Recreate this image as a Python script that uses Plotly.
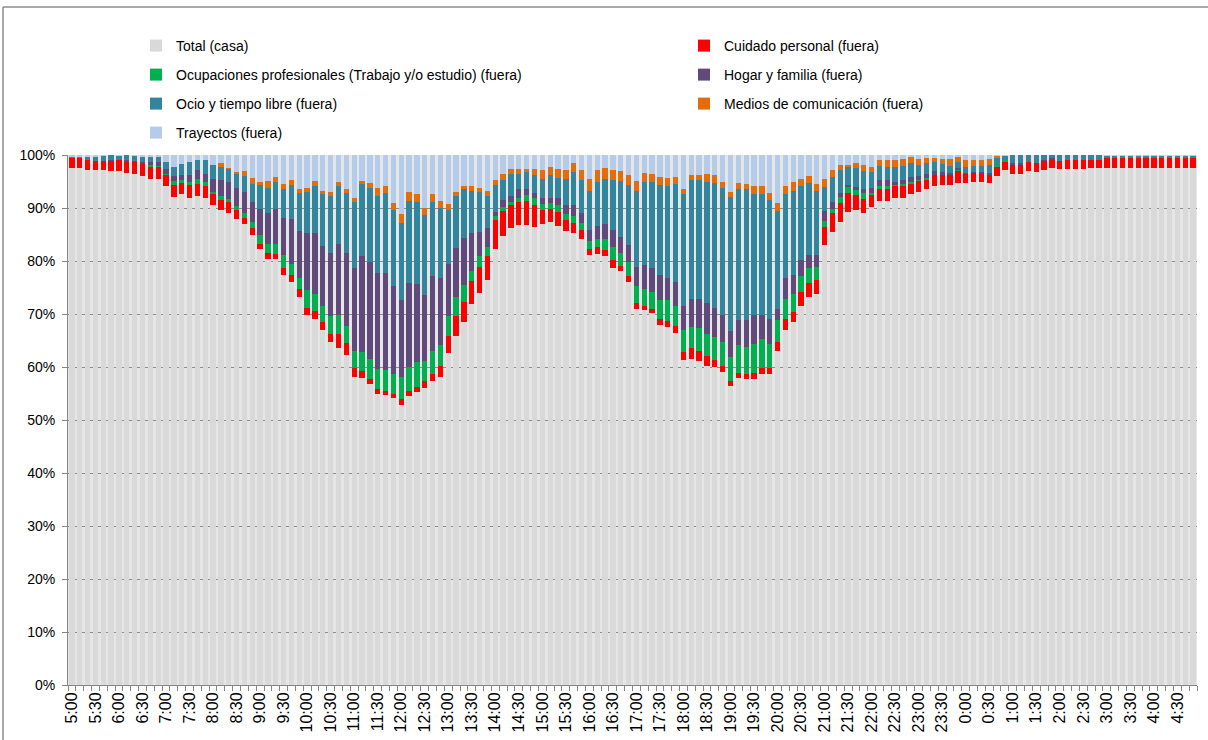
import plotly.graph_objects as go

# 10-minute slots from 5:00 to 4:50 (categories)
times = []
for k in range(144):
    m = (5 * 60 + 10 * k) % 1440
    times.append(f"{m // 60}:{m % 60:02d}")
tick_text = [t if i % 3 == 0 else "" for i, t in enumerate(times)]

casa = [
    97.5, 97.5, 97.2, 97.1, 97.1, 97.0, 96.9, 96.6, 96.4, 96.0, 95.5, 95.4,
    94.1, 92.1, 92.7, 91.9, 92.2, 91.8, 90.5, 89.7, 89.1, 87.9, 87.0, 85.0,
    82.2, 80.3, 80.3, 77.4, 76.0, 73.3, 69.9, 69.1, 66.9, 64.8, 63.6, 62.3,
    58.1, 57.9, 56.7, 55.0, 54.7, 54.2, 52.8, 54.5, 55.2, 56.1, 57.3, 58.2,
    62.6, 65.8, 68.5, 71.9, 74.0, 76.5, 82.3, 84.8, 86.3, 86.7, 86.7, 86.4,
    87.0, 87.4, 86.6, 85.7, 85.3, 84.1, 81.1, 81.4, 80.9, 78.7, 78.1, 76.0,
    70.9, 70.7, 70.1, 68.0, 67.5, 66.5, 61.3, 61.6, 61.1, 60.2, 60.0, 59.1,
    56.4, 57.9, 57.7, 57.7, 58.6, 58.6, 63.1, 66.9, 68.4, 71.6, 73.3, 73.8,
    83.1, 85.4, 87.4, 89.2, 89.6, 89.0, 90.1, 91.4, 91.4, 91.8, 91.8, 92.6,
    93.1, 93.6, 94.2, 94.3, 94.3, 94.8, 94.8, 95.0, 95.0, 94.7, 96.0, 97.2,
    96.4, 96.5, 96.9, 96.8, 97.2, 97.6, 97.3, 97.4, 97.4, 97.4, 97.5, 97.5,
    97.6, 97.6, 97.6, 97.6, 97.6, 97.6, 97.6, 97.6, 97.6, 97.6, 97.6, 97.6,
]
cuidado = [
    2.1, 2.1, 1.9, 1.8, 1.8, 1.9, 2.1, 2.2, 2.3, 2.4, 2.4, 2.5,
    2.2, 2.2, 2.0, 2.4, 2.3, 2.3, 2.1, 1.9, 2.0, 1.7, 1.1, 1.3,
    1.1, 1.3, 1.1, 1.3, 1.4, 1.4, 1.3, 1.5, 1.5, 1.5, 2.7, 2.2,
    1.8, 1.3, 1.1, 0.8, 0.8, 0.8, 1.1, 1.0, 1.0, 1.2, 1.4, 2.0,
    3.2, 3.8, 3.8, 4.3, 4.9, 4.4, 5.4, 4.6, 4.2, 4.4, 4.7, 4.1,
    2.7, 2.5, 2.6, 2.1, 1.9, 1.7, 1.2, 1.2, 1.2, 1.4, 0.9, 1.1,
    1.1, 0.9, 0.9, 1.1, 1.1, 1.2, 1.5, 1.9, 2.0, 1.8, 1.4, 1.1,
    0.9, 1.0, 1.0, 1.2, 1.3, 1.3, 1.7, 2.2, 1.9, 2.6, 2.5, 2.7,
    3.3, 3.6, 3.5, 3.7, 2.9, 2.7, 2.4, 2.1, 2.1, 2.4, 2.4, 2.1,
    2.0, 1.7, 2.0, 2.1, 2.1, 2.2, 1.7, 1.7, 1.6, 1.7, 1.8, 1.5,
    1.8, 1.8, 1.7, 1.7, 1.7, 1.6, 1.6, 1.6, 1.6, 1.6, 1.6, 1.5,
    1.8, 1.8, 1.8, 1.8, 1.8, 1.8, 1.8, 1.8, 1.8, 1.8, 1.8, 1.8,
]
ocupaciones = [
    0.0, 0.0, 0.0, 0.0, 0.0, 0.0, 0.0, 0.0, 0.0, 0.0, 0.2, 0.1,
    0.2, 0.8, 0.5, 0.7, 0.9, 0.8, 0.5, 0.6, 0.6, 0.8, 0.9, 1.1,
    1.7, 1.7, 1.9, 2.4, 2.1, 2.1, 3.3, 3.1, 3.1, 3.4, 3.6, 3.2,
    3.2, 3.6, 3.8, 3.8, 3.9, 3.7, 4.3, 4.5, 4.7, 3.8, 4.4, 3.9,
    3.8, 3.7, 3.2, 2.0, 2.0, 1.7, 0.7, 0.8, 0.6, 0.8, 1.0, 1.3,
    1.1, 1.1, 1.4, 1.1, 1.3, 1.4, 1.4, 1.6, 2.0, 2.5, 2.5, 2.7,
    3.2, 3.2, 3.2, 3.6, 4.0, 3.9, 4.2, 4.0, 4.3, 4.3, 4.3, 4.5,
    4.5, 5.2, 5.1, 5.4, 5.3, 4.5, 4.1, 3.8, 3.5, 2.9, 2.9, 2.4,
    1.1, 0.8, 1.2, 1.0, 0.9, 1.1, 0.4, 0.7, 0.6, 0.2, 0.3, 0.3,
    0.2, 0.3, 0.0, 0.0, 0.0, 0.2, 0.0, 0.0, 0.0, 0.0, 0.3, 0.3,
    0.0, 0.0, 0.0, 0.0, 0.0, 0.0, 0.0, 0.0, 0.0, 0.0, 0.0, 0.0,
    0.0, 0.0, 0.0, 0.0, 0.0, 0.0, 0.0, 0.0, 0.0, 0.0, 0.0, 0.0,
]
hogar = [
    0.0, 0.0, 0.0, 0.0, 0.0, 0.2, 0.0, 0.2, 0.1, 0.2, 0.5, 0.7,
    0.9, 0.9, 1.1, 1.3, 1.7, 1.6, 2.3, 3.0, 3.3, 3.3, 4.1, 3.8,
    4.9, 5.8, 6.6, 7.1, 8.4, 8.9, 10.8, 11.5, 11.3, 11.9, 13.4, 13.9,
    15.5, 18.1, 18.2, 18.2, 18.4, 16.6, 14.4, 15.8, 14.8, 12.5, 14.0, 12.6,
    9.9, 9.2, 8.9, 7.0, 4.6, 3.7, 0.8, 1.4, 1.2, 1.6, 1.2, 1.1,
    1.1, 0.9, 1.2, 1.6, 2.0, 1.9, 2.1, 2.4, 2.8, 3.2, 2.9, 3.2,
    3.7, 4.4, 4.4, 4.6, 4.2, 4.4, 4.6, 5.4, 5.5, 5.8, 5.4, 5.2,
    4.9, 4.7, 5.0, 5.6, 4.7, 4.7, 2.1, 3.9, 3.5, 3.0, 2.5, 2.3,
    1.9, 1.3, 0.8, 0.4, 0.5, 0.7, 0.9, 1.0, 1.1, 0.6, 0.8, 0.9,
    0.7, 0.9, 0.7, 0.3, 0.2, 0.3, 0.1, 0.1, 0.1, 0.2, 0.0, 0.0,
    0.3, 0.2, 0.0, 0.0, 0.1, 0.2, 0.0, 0.0, 0.0, 0.0, 0.0, 0.0,
    0.0, 0.0, 0.0, 0.0, 0.0, 0.0, 0.0, 0.0, 0.0, 0.0, 0.0, 0.0,
]
ocio = [
    0.2, 0.2, 0.6, 0.9, 1.0, 0.9, 0.9, 1.0, 1.1, 1.2, 1.1, 1.1,
    1.3, 1.7, 2.0, 2.3, 2.0, 2.5, 2.8, 2.5, 2.5, 2.8, 3.0, 3.3,
    4.5, 4.7, 5.0, 5.4, 6.4, 7.1, 7.8, 9.0, 9.9, 10.6, 10.9, 11.2,
    12.5, 13.6, 14.0, 14.5, 15.0, 14.4, 14.6, 15.6, 15.4, 15.0, 14.0, 13.3,
    10.2, 9.8, 9.1, 8.1, 7.5, 6.0, 5.1, 3.7, 4.2, 3.0, 3.1, 3.4,
    3.6, 4.4, 3.9, 5.0, 6.2, 6.1, 7.4, 8.3, 8.5, 9.4, 10.6, 11.3,
    14.4, 15.8, 16.3, 17.1, 17.3, 18.5, 21.1, 22.4, 22.4, 22.9, 23.7, 23.9,
    25.4, 24.8, 24.7, 22.8, 22.8, 22.5, 18.4, 15.9, 16.0, 14.0, 13.5, 12.1,
    4.6, 4.8, 4.3, 3.4, 3.6, 3.5, 2.9, 2.7, 2.6, 2.8, 2.6, 2.5,
    2.1, 1.9, 1.7, 1.6, 1.3, 1.1, 1.2, 1.1, 1.2, 1.5, 1.3, 0.9,
    1.5, 1.5, 1.4, 1.5, 1.0, 0.6, 1.1, 1.0, 1.0, 1.0, 0.9, 1.0,
    0.5, 0.5, 0.5, 0.5, 0.5, 0.5, 0.5, 0.5, 0.5, 0.5, 0.5, 0.5,
]
medios = [
    0.0, 0.0, 0.0, 0.0, 0.0, 0.0, 0.0, 0.0, 0.0, 0.0, 0.0, 0.0,
    0.0, 0.0, 0.0, 0.0, 0.0, 0.0, 0.0, 0.7, 0.1, 0.2, 0.8, 1.2,
    0.6, 1.3, 0.9, 0.9, 1.0, 0.7, 0.7, 0.9, 0.6, 0.8, 0.7, 0.8,
    0.7, 0.6, 0.9, 1.5, 1.4, 1.3, 1.7, 1.7, 1.6, 1.4, 1.5, 1.4,
    1.0, 0.7, 0.7, 0.9, 0.8, 0.9, 0.9, 1.2, 0.8, 0.8, 0.7, 1.0,
    1.6, 1.4, 1.6, 1.6, 1.7, 1.9, 2.2, 2.2, 2.2, 2.0, 1.9, 1.9,
    1.8, 1.6, 1.6, 1.4, 1.6, 1.3, 0.9, 1.0, 1.0, 1.4, 1.4, 1.2,
    0.9, 1.1, 1.1, 1.5, 1.5, 1.3, 1.5, 1.5, 1.6, 1.3, 1.3, 1.3,
    1.4, 1.3, 1.0, 0.5, 0.9, 1.1, 1.1, 1.2, 1.2, 1.3, 1.3, 1.4,
    1.1, 1.0, 0.8, 0.9, 1.3, 1.0, 1.3, 1.1, 1.1, 1.1, 0.5, 0.0,
    0.0, 0.0, 0.0, 0.0, 0.0, 0.0, 0.0, 0.0, 0.0, 0.0, 0.0, 0.0,
    0.0, 0.0, 0.0, 0.0, 0.0, 0.0, 0.0, 0.0, 0.0, 0.0, 0.0, 0.0,
]
trayectos = [
    0.2, 0.2, 0.3, 0.2, 0.1, 0.0, 0.1, 0.0, 0.1, 0.2, 0.3, 0.2,
    1.3, 2.3, 1.7, 1.4, 0.9, 1.0, 1.8, 1.6, 2.4, 3.3, 3.1, 4.3,
    5.0, 4.9, 4.2, 5.5, 4.7, 6.5, 6.2, 4.9, 6.7, 7.0, 5.1, 6.4,
    8.2, 4.9, 5.3, 6.2, 5.8, 9.0, 11.1, 6.9, 7.3, 10.0, 7.4, 8.6,
    9.3, 7.0, 5.8, 5.8, 6.2, 6.8, 4.8, 3.5, 2.7, 2.7, 2.6, 2.7,
    2.9, 2.3, 2.7, 2.9, 1.6, 2.9, 4.6, 2.9, 2.4, 2.8, 3.0, 3.8,
    4.9, 3.4, 3.5, 4.2, 4.3, 4.2, 6.4, 3.7, 3.7, 3.6, 3.8, 5.0,
    7.0, 5.3, 5.4, 5.8, 5.8, 7.1, 9.1, 5.8, 5.1, 4.6, 4.0, 5.4,
    4.6, 2.8, 1.8, 1.8, 1.6, 1.9, 2.2, 0.9, 1.0, 0.9, 0.8, 0.2,
    0.8, 0.6, 0.6, 0.8, 0.8, 0.4, 0.9, 1.0, 1.0, 0.8, 0.1, 0.1,
    0.0, 0.0, 0.0, 0.0, 0.0, 0.0, 0.0, 0.0, 0.0, 0.0, 0.0, 0.0,
    0.1, 0.1, 0.1, 0.1, 0.1, 0.1, 0.1, 0.1, 0.1, 0.1, 0.1, 0.1,
]

series_names = [
    "Total (casa)",
    "Cuidado personal (fuera)",
    "Ocupaciones profesionales (Trabajo y/o estudio) (fuera)",
    "Hogar y familia (fuera)",
    "Ocio y tiempo libre (fuera)",
    "Medios de comunicación (fuera)",
    "Trayectos (fuera)",
]
series_values = [casa, cuidado, ocupaciones, hogar, ocio, medios, trayectos]
series_colors = ["#D9D9D9", "#FF0000", "#00B050", "#604A7B", "#31859C", "#E46C0A", "#B4CBEA"]

# legend placement (pixel position of each entry: left edge, row centre)
legend_ids = ["legend", "legend2", "legend3", "legend4", "legend5", "legend6", "legend7"]
legend_px = [(136, 46), (684, 46), (136, 75), (684, 75), (136, 104), (684, 104), (136, 133)]

W, H = 1208, 740
L, R, T, B = 68, 11, 155, 55
pw, ph = W - L - R, H - T - B


def px_x(p):
    return (p - L) / pw


def px_y(p):
    return (H - B - p) / ph


fig = go.Figure()
for name, vals, color, lg in zip(series_names, series_values, series_colors, legend_ids):
    fig.add_trace(go.Bar(
        x=times, y=vals, name=name, legend=lg, showlegend=True,
        marker=dict(color=color, line=dict(width=0)),
    ))

legend_font = dict(family="Liberation Sans, Arial, sans-serif", size=14, color="#000000")
legend_layout = {}
for lg, (lx, ly) in zip(legend_ids, legend_px):
    legend_layout[lg] = dict(
        orientation="v", xanchor="left", yanchor="middle",
        x=px_x(lx), y=px_y(ly), bgcolor="rgba(0,0,0,0)", borderwidth=0,
        font=legend_font, visible=True,
    )

fig.update_layout(
    width=W, height=H,
    showlegend=True,
    margin=dict(l=L, r=R, t=T, b=B, autoexpand=False),
    barmode="stack", barnorm="percent", bargap=0.32,
    paper_bgcolor="#FFFFFF", plot_bgcolor="#E6E6E6",
    font=dict(family="Liberation Sans, Arial, sans-serif", size=14, color="#000000"),
    xaxis=dict(
        type="category", tickmode="array", tickvals=times, ticktext=tick_text,
        tickson="boundaries", ticks="outside", ticklen=5, tickcolor="#868686",
        tickangle=-90, tickfont=dict(size=16), showline=True, linecolor="#868686",
        showgrid=False, zeroline=False,
    ),
    yaxis=dict(
        range=[0, 100], dtick=10, ticksuffix="%", ticks="outside", ticklen=5,
        tickcolor="#868686", showline=True, linecolor="#868686",
        showgrid=True, gridcolor="#8C8C8C", gridwidth=1, zeroline=False,
        ticklabelstandoff=4,
    ),
    shapes=[
        dict(type="line", xref="paper", yref="paper", x0=px_x(3), x1=px_x(1215),
             y0=px_y(7), y1=px_y(7), line=dict(color="#8C8C8C", width=1.5)),
        dict(type="line", xref="paper", yref="paper", x0=px_x(3), x1=px_x(3),
             y0=px_y(7), y1=px_y(745), line=dict(color="#8C8C8C", width=1.5)),
    ],
    **legend_layout,
)

fig.write_html("out.html", config={"displayModeBar": False},
               post_script="document.body.style.margin='0px';")
